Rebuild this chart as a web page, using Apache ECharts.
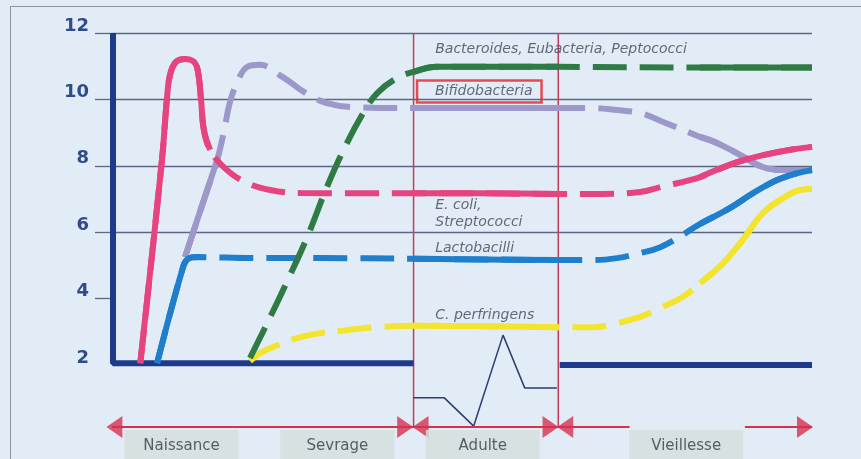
<!DOCTYPE html>
<html>
<head>
<meta charset="utf-8">
<title>Flore intestinale selon l'âge</title>
<script src="https://cdn.jsdelivr.net/npm/echarts@6/dist/echarts.min.js"></script>
<style>
html, body { margin: 0; padding: 0; background: #e2ecf7; }
#container { width: 861px; height: 459px; }
#frame { position: absolute; left: 10px; top: 6px; right: 0; bottom: 0;
  border-left: 1px solid #8f959e; border-top: 1px solid #8f959e; pointer-events: none; }
</style>
</head>
<body>
<div id="container"></div>
<div id="frame"></div>
<script>
var dom = document.getElementById('container');
var myChart = echarts.init(dom);

// phase limits on the age axis (0..100)
var adultStart = 43.0, adultEnd = 63.7, lateSolid = 84.0;

// log counts, [age, value]
var ecoli = [[3.9, 2.05], [7.0, 8.17], [7.7, 9.98], [8.15, 10.73], [9.0, 11.13], [10.3, 11.22], [11.6, 11.13],
  [12.16, 10.83], [12.6, 9.98], [13.0, 9.08], [13.9, 8.48], [16.0, 7.93], [18.9, 7.51], [22.5, 7.27], [26.8, 7.18],
  [34.0, 7.17], [43.0, 7.17], [53.0, 7.17], [63.7, 7.15], [69.2, 7.15], [75.4, 7.21], [78.3, 7.36], [84.0, 7.66],
  [89.3, 8.11], [95.0, 8.41], [100, 8.57]];
var bifido = [[10.3, 5.25], [13.0, 6.97], [14.9, 8.17], [16.0, 9.17], [16.7, 9.89], [17.9, 10.58], [19.2, 10.98],
  [21.0, 11.04], [24.3, 10.67], [27.8, 10.16], [30.6, 9.89], [34.3, 9.77], [43.0, 9.74], [53.0, 9.74], [63.7, 9.74],
  [68.7, 9.74], [72.1, 9.68], [75.4, 9.59], [78.7, 9.32], [84.0, 8.87], [86.4, 8.69], [89.7, 8.33], [93.0, 7.96],
  [95.9, 7.87], [100, 7.87]];
var lacto = [[6.3, 2.05], [9.9, 4.86], [10.7, 5.19], [12.2, 5.25], [20.0, 5.22], [30.0, 5.22], [43.0, 5.2],
  [53.0, 5.18], [63.7, 5.16], [68.7, 5.16], [72.1, 5.22], [75.4, 5.37], [78.3, 5.55], [81.5, 5.92], [84.0, 6.25],
  [88.3, 6.73], [91.6, 7.18], [95.0, 7.57], [97.9, 7.78], [100, 7.87]];
var perfringens = [[19.6, 2.12], [21.3, 2.39], [23.6, 2.6], [26.3, 2.81], [29.6, 2.96], [33.5, 3.05], [37.8, 3.14],
  [43.0, 3.18], [53.0, 3.17], [63.7, 3.14], [68.7, 3.14], [72.1, 3.26], [75.4, 3.45], [78.3, 3.72], [81.5, 4.05],
  [84.0, 4.47], [87.3, 5.07], [90.1, 5.77], [93.0, 6.58], [95.9, 7.03], [98.3, 7.27], [100, 7.3]];
var bacteroides = [[19.6, 2.21], [22.5, 3.45], [25.0, 4.56], [27.8, 5.86], [30.6, 7.36], [33.2, 8.57], [35.8, 9.59],
  [37.8, 10.19], [40.6, 10.64], [43.0, 10.83], [46.4, 10.98], [63.7, 10.98], [84.0, 10.96], [100, 10.96]];

// adult trace under the curves
var waveX = [43.0, 47.4, 51.6, 55.8, 58.9, 63.5];
var waveY = [1.01, 1.01, 0.16, 2.9, 1.31, 1.31];

// axis frame
var baseLeft = [[0, 12], [0, 2.05], [43.0, 2.05]];
var baseRight = [[63.9, 2.0], [100, 2.0]];

// time arrow
var arrowY = 0.13;
var arrowSpans = [[-0.86, 73.9], [90.4, 100]];
var arrowHeads = [[0.2, 'left'], [41.8, 'right'], [44.0, 'left'], [62.6, 'right'], [64.7, 'left'], [99.0, 'right']];

var phaseNames = ['Naissance', 'Sevrage', 'Adulte', 'Vieillesse'];
var phaseCenters = [9.8, 32.1, 52.9, 82.0];
var phaseLabelY = -0.44;

var speciesLabels = ['Bacteroides, Eubacteria, Peptococci', 'Bifidobacteria', 'E. coli,', 'Streptococci', 'Lactobacilli', 'C. perfringens'];
var labelX = [46.1, 43.5, 46.1, 46.1, 46.1, 46.1];
var labelY = [11.5, 10.24, 6.82, 6.31, 5.52, 3.51];

// whole curve dashed, solid stretches laid over it
function curve(pts, solidRanges, color, z) {
    var out = [{
        type: 'line', data: pts, smooth: 0.4, symbol: 'none', clip: false, silent: true, z: z,
        lineStyle: { color: color, width: 6, type: [34, 13] }
    }];
    solidRanges.forEach(function (r) {
        var part = pts.filter(function (p) { return p[0] >= r[0] && p[0] <= r[1]; });
        out.push({
            type: 'line', data: part, smooth: 0.4, symbol: 'none', clip: false, silent: true, z: z,
            lineStyle: { color: color, width: 6 }
        });
    });
    return out;
}

function plain(data, color, width, z) {
    return { type: 'line', data: data, symbol: 'none', clip: false, silent: true, z: z,
        lineStyle: { color: color, width: width } };
}

var adultRange = [adultStart, adultEnd], tailRange = [lateSolid, 100];

var series = [];
series.push(plain(baseLeft, '#1e3a8a', 6, 3));
series.push(plain(baseRight, '#1e3a8a', 6, 3));
series.push(plain([[adultStart, 12], [adultStart, arrowY]], '#c43c5c', 1.5, 2));
series.push(plain([[adultEnd, 12], [adultEnd, arrowY]], '#c43c5c', 1.5, 2));
series.push(plain(waveX.map(function (x, i) { return [x, waveY[i]]; }), '#2c3d6e', 1.5, 2));
arrowSpans.forEach(function (s) {
    series.push(plain([[s[0], arrowY], [s[1], arrowY]], '#d8304f', 2, 2));
});

series = series.concat(
    curve(bifido, [[10.3, 14.9], adultRange, tailRange], '#9c98ca', 4),
    curve(ecoli, [[3.9, 13.9], adultRange, tailRange], '#e6447e', 5),
    curve(lacto, [[6.3, 12.2], adultRange, tailRange], '#1f7fcc', 6),
    curve(perfringens, [adultRange, tailRange], '#f3e430', 7),
    curve(bacteroides, [adultRange, tailRange], '#2f7a45', 8)
);

series.push({
    type: 'scatter', clip: false, silent: true, z: 9,
    symbol: 'triangle', symbolSize: [22, 16],
    itemStyle: { color: '#d8304f' },
    data: arrowHeads.map(function (h) {
        return { value: [h[0], arrowY], symbolRotate: h[1] === 'left' ? 90 : -90 };
    })
});

series.push({
    type: 'scatter', clip: false, silent: true, z: 10,
    symbol: 'rect', symbolSize: [114, 32],
    itemStyle: { color: '#d3dfdc' },
    label: { show: true, position: 'inside', formatter: '{b}', color: '#353b44',
        fontFamily: 'DejaVu Sans', fontSize: 15 },
    data: phaseNames.map(function (n, i) { return { name: n, value: [phaseCenters[i], phaseLabelY] }; })
});

series.push({
    type: 'scatter', clip: false, silent: true, z: 11,
    symbolSize: 0,
    label: { show: true, position: 'right', distance: 0, formatter: '{b}', color: '#3f4759',
        fontFamily: 'DejaVu Sans', fontStyle: 'italic', fontSize: 14 },
    data: speciesLabels.map(function (n, i) {
        var item = { name: n, value: [labelX[i], labelY[i]] };
        if (n === 'Bifidobacteria') {
            item.label = { borderColor: '#e3232b', borderWidth: 2.5, padding: [4, 9, 4, 18] };
        }
        return item;
    })
});

var option = {
    backgroundColor: '#e2ecf7',
    animation: false,
    grid: { left: 113, right: 49, top: 33, bottom: 94 },
    xAxis: { type: 'value', min: 0, max: 100, show: false },
    yAxis: {
        type: 'value', min: 2, max: 12, interval: 2,
        axisLine: { show: false },
        axisTick: { show: true, length: 18, customValues: [4, 6, 8, 10, 12],
            lineStyle: { color: '#5d6685', width: 1.3 } },
        splitLine: { show: true, showMinLine: false, lineStyle: { color: '#5d6685', width: 1.3 } },
        axisLabel: { margin: 24, color: '#2e4c8c', fontFamily: 'DejaVu Sans', fontWeight: 'bold',
            fontSize: 18, verticalAlign: 'bottom', lineHeight: 14 }
    },
    series: series
};

if (option && typeof option === 'object') {
    myChart.setOption(option);
}
</script>
</body>
</html>
